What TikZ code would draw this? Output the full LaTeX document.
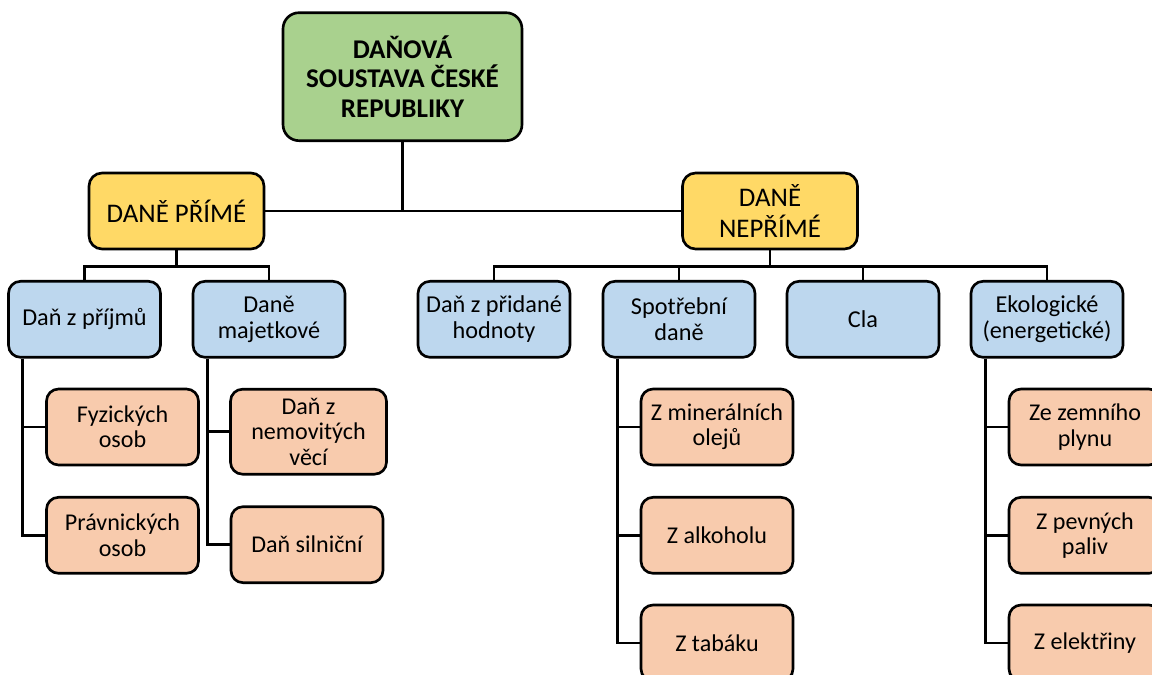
\documentclass[tikz,border=0pt]{standalone}
\usepackage{fontspec}
\setmainfont{Carlito}
\usetikzlibrary{positioning}

\definecolor{rootgreen}{HTML}{A9D18E}
\definecolor{groupyellow}{HTML}{FFD966}
\definecolor{kindblue}{HTML}{BDD7EE}
\definecolor{itemorange}{HTML}{F8CBAD}

\begin{document}
\begin{tikzpicture} [x=0.02cm,y=-0.02cm,line width=1.5pt,
    root node/.style={rectangle,rounded corners=0.32cm,fill=rootgreen,draw,align=center,
      font=\fontsize{15.4}{16.9}\selectfont\bfseries,minimum width=4.78cm,minimum height=2.56cm},
    group node/.style={rectangle,rounded corners=0.26cm,fill=groupyellow,draw,align=center,
      font=\fontsize{15.3}{17.1}\selectfont,minimum width=3.5cm,minimum height=1.52cm},
    kind node/.style={rectangle,rounded corners=0.24cm,fill=kindblue,draw,align=center,
      font=\fontsize{13.8}{14.8}\selectfont,minimum width=3.04cm,minimum height=1.52cm},
    item node/.style={rectangle,rounded corners=0.24cm,fill=itemorange,draw,align=center,
      font=\fontsize{13.7}{14.4}\selectfont,minimum width=3.04cm,minimum height=1.52cm}]

  \useasboundingbox (0,0) rectangle (1152,675);
  \clip (0,0) rectangle (1152,675);

  % draw the nodes of the tree
  \node [root node] (dan_soustava) at (402.5,76.7) {DAŇOVÁ\\SOUSTAVA ČESKÉ\\REPUBLIKY};
  \node [group node] (prime) at (176.5,211) {DANĚ PŘÍMÉ};
  \node [group node] (neprime) at (770,211) {DANĚ\\NEPŘÍMÉ};

  \node [kind node] (prijem) at (84.5,319.3) {Daň z příjmů};
  \node [kind node] (majetek) at (269,319.3) {Daně\\majetkové};
  \node [kind node] (dph) at (494,319.3) {Daň z přidané\\hodnoty};
  \node [kind node] (spotreba) at (679,319.3) {Spotřební\\daně};
  \node [kind node] (cla) at (863,319.3) {Cla};
  \node [kind node] (eko) at (1047,319.3) {Ekologické\\(energetické)};

  \node [item node] (fyz) at (122.5,427) {Fyzických\\osob};
  \node [item node] (prav) at (122.5,535.3) {Právnických\\osob};
  \node [item node, minimum width=3.12cm, minimum height=1.7cm] (nemov) at (308.5,431.7) {Daň z\\nemovitých\\věcí};
  \node [item node] (silnice) at (307,544.7) {Daň silniční};
  \node [item node] (miner) at (717,427) {Z minerálních\\olejů};
  \node [item node] (alkohol) at (717,535.3) {Z alkoholu};
  \node [item node] (tabak) at (717,643) {Z tabáku};
  \node [item node] (plyn) at (1085,427) {Ze zemního\\plynu};
  \node [item node] (paliva) at (1085,535.3) {Z pevných\\paliv};
  \node [item node] (elekt) at (1085,643) {Z elektřiny};

  % connectors between the nodes
  \draw (prime) -- (neprime);
  \draw (dan_soustava.south) -- (dan_soustava.south |- prime.east);

  \draw (prime.south) -- ++(0,16) -| (prijem.north);
  \draw (prime.south) -- ++(0,16) -| (majetek.north);
  \draw (neprime.south) -- ++(0,16) -| (dph.north);
  \draw (neprime.south) -- ++(0,16) -| (spotreba.north);
  \draw (neprime.south) -- ++(0,16) -| (cla.north);
  \draw (neprime.south) -- ++(0,16) -| (eko.north);

  \draw ([xshift=0.31cm]prijem.south west) |- (fyz.west);
  \draw ([xshift=0.31cm]prijem.south west) |- (prav.west);
  \draw ([xshift=0.31cm]majetek.south west) |- (nemov.west);
  \draw ([xshift=0.31cm]majetek.south west) |- (silnice.west);
  \draw ([xshift=0.31cm]spotreba.south west) |- (miner.west);
  \draw ([xshift=0.31cm]spotreba.south west) |- (alkohol.west);
  \draw ([xshift=0.31cm]spotreba.south west) |- (tabak.west);
  \draw ([xshift=0.31cm]eko.south west) |- (plyn.west);
  \draw ([xshift=0.31cm]eko.south west) |- (paliva.west);
  \draw ([xshift=0.31cm]eko.south west) |- (elekt.west);

\end{tikzpicture}
\end{document}
